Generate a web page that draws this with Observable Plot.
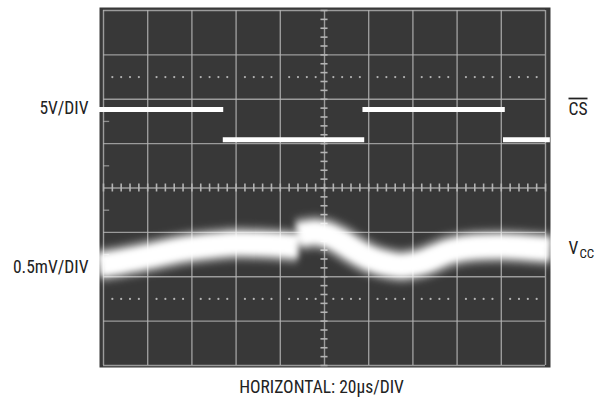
<!DOCTYPE html>
<html><head><meta charset="utf-8">
<script src="https://cdn.jsdelivr.net/npm/d3@7"></script>
<script src="https://cdn.jsdelivr.net/npm/@observablehq/plot@0.6"></script>
<style>
body{margin:0;background:#fff;}
</style>
</head><body><div id="chart"></div>
<script>
// Graticule (divisions)
const gridX = [0,1,2,3,4,5,6,7,8,9,10];
const gridY = [-4,-3,-2,-1,0,1,2,3,4];
const dottedY = [2.5, -2.5];
const edgeTickY = [1.5, 0.5, -0.5, -1.5];

// CS trace (5V/DIV): segments in divisions
const csStart = [-0.1, 2.71, 5.87, 9.05];
const csEnd   = [2.72, 5.91, 9.09, 10.11];
const csLevel = [1.77, 1.09, 1.77, 1.09];

// VCC trace (0.5mV/DIV): two pieces (step at the CS edge)
const vccPiece = [0,0,0,0,0,0,0,0, 1,1,1,1,1,1,1,1,1,1,1,1,1,1];
const vccX = [-0.1,0.4,1.06,1.74,2.53,3.1,3.7,4.41, 4.41,4.79,5.04,5.36,5.58,6.04,6.49,6.72,7.17,7.85,8.41,8.98,9.55,10.11];
const vccY = [-1.74,-1.66,-1.53,-1.39,-1.29,-1.25,-1.27,-1.32, -1.06,-1.00,-1.05,-1.20,-1.34,-1.59,-1.72,-1.75,-1.68,-1.42,-1.33,-1.31,-1.34,-1.38];

// Labels
const leftLabels = ["5V/DIV", "0.5mV/DIV"];
const leftLabelY = [1.80, -1.78];
const rightLabels = ["CS", "V"];
const rightLabelY = [1.78, -1.37];
const subLabel = ["CC"];
const subLabelY = [-1.49];
const caption = ["HORIZONTAL: 20µs/DIV"];

const cs = csStart.map((s,i)=>({x1:s, x2:csEnd[i], y:csLevel[i]}));
const vcc = vccX.map((x,i)=>({x, y:vccY[i], p:vccPiece[i]}));
const minorV = d3.range(-4, 4.001, 0.2).map(v=>+v.toFixed(2));
const minorH = d3.range(0, 10.001, 0.2).map(v=>+v.toFixed(2));
const dots = [];
for (const yy of dottedY) for (const xx of minorH) if (Math.abs(xx-Math.round(xx))>0.01) dots.push({x:xx, y:yy});

const font = "'Liberation Sans Narrow','Roboto Condensed','DejaVu Sans Condensed',sans-serif";
const gridColor = "#b4b4b4";

const svg = Plot.plot({
  width: 603, height: 402,
  marginLeft: 103, marginRight: 58, marginTop: 10, marginBottom: 37,
  x: {type: "linear", domain: [0,10], axis: null},
  y: {type: "linear", domain: [-4,4], axis: null},
  style: {fontFamily: font, background: "#fff"},
  marks: [
    Plot.frame({fill: "#383838", stroke: "none", insetLeft: -4, insetRight: -5, insetTop: -3, insetBottom: -2}),
    Plot.ruleX(gridX, {stroke: gridColor, strokeWidth: 1.4, strokeOpacity: 0.8}),
    Plot.ruleY(gridY, {stroke: gridColor, strokeWidth: 1.4, strokeOpacity: 0.8}),
    Plot.dot(dots, {x: "x", y: "y", r: 1.1, fill: gridColor, stroke: "none"}),
    Plot.ruleY(edgeTickY, {y: d=>d, x1: 0, x2: 0.14, stroke: gridColor, strokeWidth: 1.3, strokeOpacity: 0.7}),
    Plot.ruleY(minorV, {y: d=>d, x1: 4.92, x2: 5.08, stroke: gridColor, strokeWidth: 1.6}),
    Plot.ruleX(minorH, {x: d=>d, y1: -0.09, y2: 0.09, stroke: gridColor, strokeWidth: 1.6}),
    Plot.ruleY(cs, {x1: "x1", x2: "x2", y: "y", stroke: "#fff", strokeWidth: 5}),
    Plot.line(vcc, {x: "x", y: "y", z: "p", curve: "monotone-x", stroke: "#fff", strokeWidth: 36, strokeOpacity: 0.3, strokeLinecap: "butt"}),
    Plot.line(vcc, {x: "x", y: "y", z: "p", curve: "monotone-x", stroke: "#fff", strokeWidth: 24, strokeLinecap: "butt"}),
    Plot.text(leftLabels, {text: d=>d, y: (d,i)=>leftLabelY[i], frameAnchor: "left", dx: -15, textAnchor: "end", fontSize: 17.5, fill: "#222"}),
    Plot.text(rightLabels, {text: d=>d, y: (d,i)=>rightLabelY[i], frameAnchor: "right", dx: 23, textAnchor: "start", fontSize: 17.5, fill: "#222"}),
    Plot.text(subLabel, {text: d=>d, y: (d,i)=>subLabelY[i], frameAnchor: "right", dx: 34, textAnchor: "start", fontSize: 13, fill: "#222"}),
    Plot.text(caption, {text: d=>d, frameAnchor: "bottom", dy: 27, dx: -3, fontSize: 17.5, fill: "#222"})
  ]
});

const s = d3.select(svg);
const defs = s.insert("defs", ":first-child");
const f = defs.append("filter").attr("id","glow").attr("filterUnits","userSpaceOnUse")
  .attr("x",0).attr("y",0).attr("width",603).attr("height",402);
f.append("feGaussianBlur").attr("stdDeviation", 3);
const f2 = defs.append("filter").attr("id","glow2").attr("filterUnits","userSpaceOnUse")
  .attr("x",0).attr("y",0).attr("width",603).attr("height",402);
f2.append("feGaussianBlur").attr("stdDeviation", 0.7);
s.selectAll('g[aria-label="line"]').attr("filter","url(#glow)");
s.selectAll('g[aria-label="rule"]').filter(function(){ return this.querySelectorAll("line").length === 4 && d3.select(this).attr("stroke") === "#fff"; }).attr("filter","url(#glow2)");
s.selectAll("text").filter(function(){ return this.textContent === "CS"; }).style("text-decoration", "overline");
document.getElementById("chart").appendChild(svg);
</script>
</body></html>
